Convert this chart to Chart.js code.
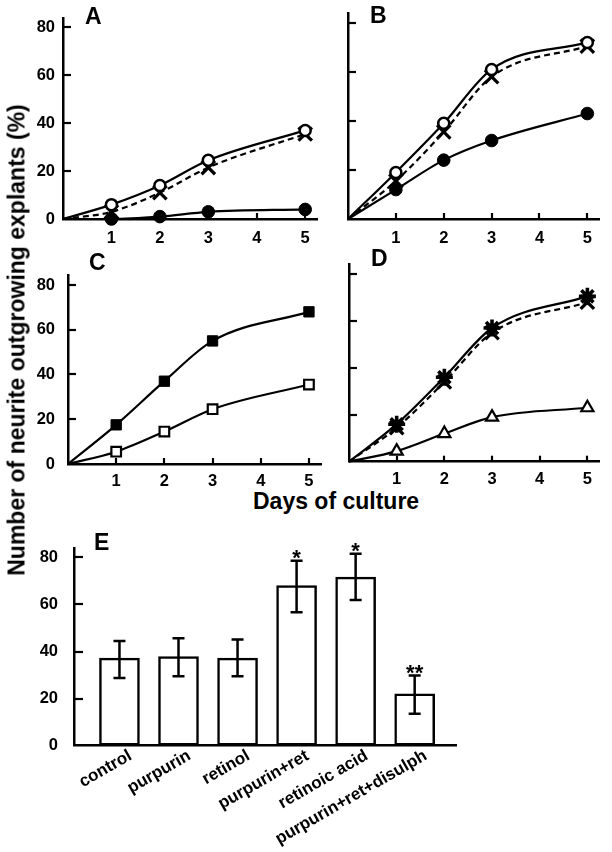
<!DOCTYPE html>
<html><head><meta charset="utf-8">
<script src="https://cdn.jsdelivr.net/npm/chart.js@4.4.1/dist/chart.umd.min.js"></script>
<style>
html,body{margin:0;padding:0;background:#fff;}
body{width:612px;height:852px;position:relative;overflow:hidden;font-family:"Liberation Sans",Arial,Helvetica,sans-serif;}
canvas{position:absolute;}
.t{position:absolute;font-weight:bold;line-height:1;white-space:nowrap;color:#000;font-family:"Liberation Sans",Arial,sans-serif;}
</style></head><body>
<canvas id="cA"></canvas>
<canvas id="cB"></canvas>
<canvas id="cC"></canvas>
<canvas id="cD"></canvas>
<canvas id="cE"></canvas>
<div class="t" style="left:85px;top:4.5px;font-size:23px;">A</div>
<div class="t" style="left:370px;top:3.5px;font-size:23px;">B</div>
<div class="t" style="left:89px;top:251px;font-size:23px;">C</div>
<div class="t" style="left:371px;top:247px;font-size:23px;">D</div>
<div class="t" style="left:94px;top:530.5px;font-size:23px;">E</div>
<div class="t" style="left:253px;top:490px;font-size:23px;">Days of culture</div>
<div class="t" style="left:16.5px;top:340px;font-size:23px;transform:translate(-50%,-50%) rotate(-90deg);">Number of neurite outgrowing explants (%)</div>
<script>
// ---------------- data ----------------
const days = [0, 1, 2, 3, 5];            // day 0 = curve origin
const dayTicks = [1, 2, 3, 4, 5];
const pctTicks = [0, 20, 40, 60, 80];

// Panel A
const A_openCircle   = [0, 6, 14, 24.5, 37];
const A_cross        = [0, 3, 11, 21.5, 35.5];
const A_filledCircle = [0, 0, 1, 3, 4];
// Panel B
const B_openCircle   = [0, 19, 39, 61, 72];
const B_cross        = [0, 15.5, 35.5, 58, 70.5];
const B_filledCircle = [0, 12, 24, 32, 43];
// Panel C
const C_filledSquare = [0, 17.5, 37, 55, 68];
const C_openSquare   = [0, 5.5, 14.5, 24.5, 35.5];
// Panel D
const D_star         = [0, 16, 36, 57, 70.5];
const D_cross        = [0, 14.5, 34, 55, 68];
const D_triangle     = [0, 4.5, 12, 19, 23];
// Panel E
const E_categories = ['control', 'purpurin', 'retinol', 'purpurin+ret', 'retinoic acid', 'purpurin+ret+disulph'];
const E_values     = [37.2, 37.8, 37.2, 68.0, 71.6, 22.0];
const E_errHigh    = [44.5, 45.6, 45.1, 78.5, 81.5, 29.8];
const E_errLow     = [28.7, 29.5, 29.5, 56.7, 61.9, 13.6];
const E_signif     = ['', '', '', '*', '*', '**'];

// ---------------- styles ----------------
const FONT = '"Liberation Sans", Arial, sans-serif';
const MK = {
  openCircle:   {pointStyle:'circle', r:5.5, bg:'#fff', bw:2.5},
  filledCircle: {pointStyle:'circle', r:6.3, bg:'#000', bw:1},
  cross:        {pointStyle:'crossRot', r:9.5, bg:'#000', bw:3.2, dash:[6,4]},
  filledSquare: {pointStyle:'rect', r:7.3, bg:'#000', bw:1},
  openSquare:   {pointStyle:'rect', r:6.8, bg:'#fff', bw:2.2},
  star:         {pointStyle:'star', r:8.5, bg:'#000', bw:3.6},
  triangle:     {pointStyle:'triangle', r:7, bg:'#fff', bw:2.2}
};

function ds(vals, m) {
  return {
    data: days.map((d, i) => ({x: d, y: vals[i]})),
    borderColor: '#000', borderWidth: 2.2, fill: false, clip: false,
    borderDash: m.dash || [],
    cubicInterpolationMode: 'monotone',
    pointStyle: m.pointStyle,
    pointRadius: days.map(d => d === 0 ? 0 : m.r),
    pointBackgroundColor: m.bg,
    pointBorderColor: '#000',
    pointBorderWidth: m.bw
  };
}

const innerTicks = {
  id: 'innerTicks',
  beforeDatasetsDraw(chart, args, o) {
    const ctx = chart.ctx, xs = chart.scales.x, ys = chart.scales.y;
    ctx.save(); ctx.strokeStyle = '#000'; ctx.lineWidth = 2.2;
    if (o.y) ys.ticks.forEach(t => {
      if (t.value === 0) return;
      const py = Math.round(ys.getPixelForValue(t.value));
      ctx.beginPath(); ctx.moveTo(ys.right, py); ctx.lineTo(ys.right + o.y, py); ctx.stroke();
    });
    if (o.x) xs.ticks.forEach(t => {
      const px = Math.round(xs.getPixelForValue(t.value));
      ctx.beginPath(); ctx.moveTo(px, xs.top); ctx.lineTo(px, xs.top - o.x); ctx.stroke();
    });
    ctx.restore();
  }
};

function place(id, L) {
  const cv = document.getElementById(id);
  cv.width = L.cw; cv.height = L.ch;
  cv.style.left = L.cx + 'px'; cv.style.top = L.cy + 'px';
  return cv;
}

function linePanel(id, L, datasets) {
  const cv = place(id, L);
  new Chart(cv, {
    type: 'line',
    data: {datasets},
    plugins: [innerTicks],
    options: {
      responsive: false, animation: false, events: [],
      layout: {padding: {left: 0, bottom: 0, top: L.top - L.cy, right: L.cx + L.cw - L.right}},
      plugins: {legend: {display: false}, tooltip: {enabled: false}, innerTicks: {x: 6, y: 8}},
      scales: {
        x: {
          type: 'linear', min: 0, max: L.xmax,
          afterBuildTicks: s => { s.ticks = dayTicks.map(v => ({value: v})); },
          afterFit: s => { s.height = L.cy + L.ch - L.bottom; },
          grid: {drawOnChartArea: false, drawTicks: false},
          border: {display: true, color: '#000', width: 2.5},
          ticks: {color: '#000', font: {family: FONT, size: 16.5, weight: 'bold'}, padding: L.xPad, maxRotation: 0, autoSkip: false}
        },
        y: {
          type: 'linear', min: 0, max: L.ymax,
          afterBuildTicks: s => { s.ticks = pctTicks.map(v => ({value: v})); },
          afterFit: s => { s.width = L.left - L.cx; },
          grid: {drawOnChartArea: false, drawTicks: false},
          border: {display: true, color: '#000', width: 2.5},
          ticks: {display: L.showY, color: '#000', font: {family: FONT, size: 16.5, weight: 'bold'}, padding: L.yPad, autoSkip: false}
        }
      }
    }
  });
}

linePanel('cA', {cx:0, cy:0, cw:330, ch:252, left:63, top:13, right:323.4, bottom:219, xmax:5.25, ymax:84, showY:true, yPad:8, xPad:10},
  [ds(A_openCircle, MK.openCircle), ds(A_cross, MK.cross), ds(A_filledCircle, MK.filledCircle)]);
linePanel('cB', {cx:330, cy:0, cw:282, ch:252, left:348, top:13, right:608.4, bottom:219, xmax:5.25, ymax:84, showY:false, yPad:8, xPad:10},
  [ds(B_openCircle, MK.openCircle), ds(B_cross, MK.cross), ds(B_filledCircle, MK.filledCircle)]);
linePanel('cC', {cx:0, cy:252, cw:330, ch:236, left:68, top:258.5, right:325.5, bottom:464, xmax:5.25, ymax:84.5, showY:true, yPad:13, xPad:8},
  [ds(C_filledSquare, MK.filledSquare), ds(C_openSquare, MK.openSquare)]);
linePanel('cD', {cx:330, cy:252, cw:282, ch:236, left:349, top:255, right:609, bottom:461.7, xmax:5.25, ymax:84, showY:false, yPad:8, xPad:8},
  [ds(D_star, MK.star), ds(D_cross, MK.cross), ds(D_triangle, MK.triangle)]);

// ---------------- panel E ----------------
const errorBars = {
  id: 'errorBars',
  afterDatasetsDraw(chart) {
    const ctx = chart.ctx, xs = chart.scales.x, ys = chart.scales.y;
    ctx.save(); ctx.strokeStyle = '#000'; ctx.fillStyle = '#000'; ctx.lineWidth = 2.5;
    E_categories.forEach((c, i) => {
      const px = xs.getPixelForValue(i);
      const yh = ys.getPixelForValue(E_errHigh[i]);
      const yl = ys.getPixelForValue(E_errLow[i]);
      ctx.beginPath();
      ctx.moveTo(px, yh); ctx.lineTo(px, yl);
      ctx.moveTo(px - 6, yh); ctx.lineTo(px + 6, yh);
      ctx.moveTo(px - 6, yl); ctx.lineTo(px + 6, yl);
      ctx.stroke();
      if (E_signif[i]) {
        ctx.font = 'bold 22px ' + FONT;
        ctx.textAlign = 'center'; ctx.textBaseline = 'alphabetic';
        ctx.fillText(E_signif[i], px, yh + 4);
      }
    });
    ctx.restore();
  }
};

(function () {
  const L = {cx:0, cy:522, cw:612, ch:330, left:74, top:539, right:456, bottom:745.7};
  const cv = place('cE', L);
  new Chart(cv, {
    type: 'bar',
    data: {datasets: [{
      data: E_categories.map((c, i) => ({x: i, y: E_values[i]})),
      backgroundColor: '#fff', borderColor: '#000', borderWidth: 2.5,
      borderSkipped: false, barThickness: 40
    }]},
    plugins: [innerTicks, errorBars],
    options: {
      responsive: false, animation: false, events: [],
      layout: {padding: {left: 0, bottom: 0, top: L.top - L.cy, right: L.cx + L.cw - L.right}},
      plugins: {legend: {display: false}, tooltip: {enabled: false}, innerTicks: {x: 0, y: 9}},
      scales: {
        x: {
          type: 'linear', min: -0.77, max: 5.70, offset: false,
          afterBuildTicks: s => { s.ticks = E_categories.map((c, i) => ({value: i})); },
          afterFit: s => { s.height = L.cy + L.ch - L.bottom; },
          grid: {drawOnChartArea: false, drawTicks: false, offset: false},
          border: {display: true, color: '#000', width: 2.5},
          ticks: {color: '#000', font: {family: FONT, size: 17, weight: 'bold'}, padding: 0, labelOffset: 11,
                  minRotation: 30, maxRotation: 30, autoSkip: false,
                  callback: v => E_categories[Math.round(v)]}
        },
        y: {
          type: 'linear', min: 0, max: 84,
          afterBuildTicks: s => { s.ticks = pctTicks.map(v => ({value: v})); },
          afterFit: s => { s.width = L.left - L.cx; },
          grid: {drawOnChartArea: false, drawTicks: false},
          border: {display: true, color: '#000', width: 2.5},
          ticks: {color: '#000', font: {family: FONT, size: 16.5, weight: 'bold'}, padding: 16, autoSkip: false}
        }
      }
    }
  });
})();
</script>
</body></html>
